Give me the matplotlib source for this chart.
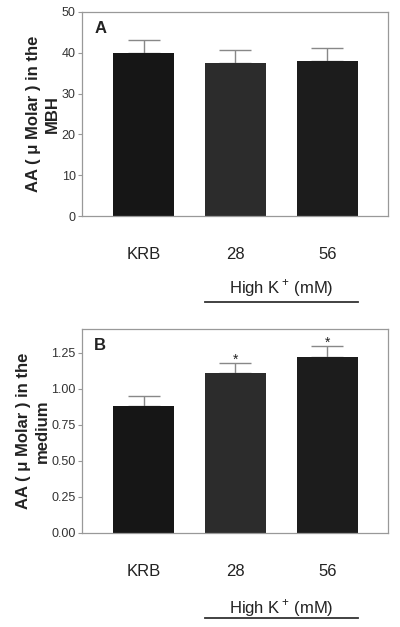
import numpy as np
import matplotlib.pyplot as plt
from matplotlib.transforms import blended_transform_factory

plt.rcParams['font.family'] = ['Liberation Sans', 'DejaVu Sans']
plt.rcParams['mathtext.fontset'] = 'custom'
plt.rcParams['mathtext.rm'] = 'Liberation Sans'

# data
groups = ['KRB', '28', '56']
mbh_mean = [40.0, 37.5, 38.0]
mbh_err = [3.2, 3.2, 3.1]
med_mean = [0.885, 1.11, 1.22]
med_err = [0.065, 0.07, 0.075]
med_sig = ['', '*', '*']
bar_colors = ['#161616', '#2c2c2c', '#1c1c1c']

fig = plt.figure(figsize=(4, 6.27), dpi=100)
axA = fig.add_axes([0.205, 0.6555, 0.765, 0.3254])
axB = fig.add_axes([0.205, 0.15, 0.765, 0.3254])

x = np.arange(len(groups))


def draw_panel(ax, mean, err, ylim, yticks, ylabel, letter, fmt, lab_y, line_y):
    ax.bar(x, mean, width=0.66, color=bar_colors, zorder=2)
    ax.errorbar(x, mean, yerr=[np.zeros(len(err)), err], fmt='none',
                ecolor='#888888', elinewidth=1.0, capsize=11.5, capthick=1.0, zorder=1)
    ax.set_xlim(-0.67, 2.66)
    ax.set_ylim(*ylim)
    ax.set_yticks(yticks)
    ax.set_yticklabels([fmt.format(v) for v in yticks], fontsize=9, color='#333333')
    ax.set_xticks(x)
    ax.set_xticklabels(groups, fontsize=12, color='#222222')
    ax.tick_params(axis='x', length=0, pad=22)
    ax.tick_params(axis='y', length=3, width=0.8, color='#999999', pad=1.5)
    for s in ax.spines.values():
        s.set_color('#999999')
        s.set_linewidth(0.9)
    ax.set_ylabel(ylabel, fontsize=12, fontweight='bold', labelpad=1, color='#222222',
                  linespacing=1.35)
    ax.text(0.06, 0.92, letter, transform=ax.transAxes, fontsize=12,
            fontweight='bold', ha='center', va='center', color='#222222')
    tr = blended_transform_factory(ax.transData, ax.transAxes)
    ax.text(1.5, lab_y, 'High K$\\,^{{+}}$ (mM)', transform=tr, ha='center', va='center',
            fontsize=12, color='#222222')
    ax.plot([0.67, 2.33], [line_y, line_y], transform=tr, color='#333333',
            lw=1.3, clip_on=False)


draw_panel(axA, mbh_mean, mbh_err, (0, 50), [0, 10, 20, 30, 40, 50],
           'AA ( \u03bc Molar ) in the\nMBH', 'A', '{:.0f}', -0.353, -0.42)
draw_panel(axB, med_mean, med_err, (0, 1.417), [0, 0.25, 0.5, 0.75, 1.0, 1.25],
           'AA ( \u03bc Molar ) in the\nmedium', 'B', '{:.2f}', -0.368, -0.417)

for xi, m, e, s in zip(x, med_mean, med_err, med_sig):
    if s:
        axB.text(xi, m + e + 0.025, s, ha='center', va='center', fontsize=10, color='#222222')

fig.savefig('out.png', dpi=100)
